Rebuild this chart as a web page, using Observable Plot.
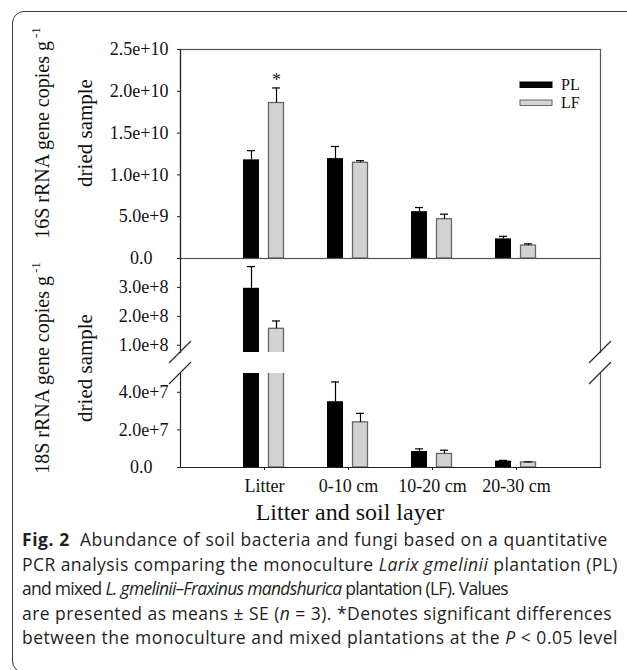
<!DOCTYPE html>
<html><head><meta charset="utf-8">
<script src="https://cdn.jsdelivr.net/npm/d3@7"></script>
<script src="https://cdn.jsdelivr.net/npm/@observablehq/plot@0.6"></script>
<style>
html,body{margin:0;padding:0;background:#fff;}
#wrap{position:relative;width:627px;height:670px;overflow:hidden;background:#fff;}
#card{position:absolute;left:12px;top:11px;width:700px;height:662px;border:1.4px solid #3a3a3a;border-radius:12px;box-sizing:border-box;}
.layer{position:absolute;left:0;top:0;}
#xtitle{position:absolute;left:0;width:700px;top:499px;text-align:center;font-family:"Liberation Serif",serif;font-size:24px;color:#111;}
#caption{position:absolute;left:22px;top:527px;font-family:"Open Sans",sans-serif;font-size:17.5px;color:#231f20;line-height:24.5px;}
#caption div{white-space:nowrap;}
</style></head>
<body><div id="wrap"><div id="card"></div><div id="xtitle">Litter and soil layer</div><div id="caption"></div></div>
<script>
// ---------- data ----------
const categories = ["Litter", "0-10 cm", "10-20 cm", "20-30 cm"];
const seriesNames = ["PL", "LF"];
// 16S rRNA (bacteria)
const bac_PL    = [1.18e10, 1.195e10, 5.6e9, 2.35e9];
const bac_PL_se = [1.1e9,   1.45e9,   0.5e9, 0.3e9];
const bac_LF    = [1.86e10, 1.145e10, 4.7e9, 1.55e9];
const bac_LF_se = [1.8e9,   0.25e9,   0.6e9, 0.2e9];
const bac_sig   = ["", "*", "", "", "", "", "", ""]; // per (cat, series) -> only Litter LF
// 18S rRNA (fungi)
const fun_PL    = [2.97e8, 3.5e7,  8.5e6, 3.4e6];
const fun_PL_se = [0.75e8, 1.05e7, 1.4e6, 0.4e6];
const fun_LF    = [1.57e8, 2.4e7,  7.2e6, 2.7e6];
const fun_LF_se = [0.27e8, 0.48e7, 2.0e6, 0.3e6];
// axes
const ticksBac = [0, 5e9, 1e10, 1.5e10, 2e10, 2.5e10];
const ticksFunUpper = [1e8, 2e8, 3e8];
const ticksFunLower = [0, 2e7, 4e7];
const domainBac = [0, 2.5e10];
const domainFunUpper = [0.75e8, 4e8];
const domainFunLower = [0, 5e7];
const yTitleBac = "16S rRNA gene copies g";
const yTitleFun = "18S rRNA gene copies g";
const yTitle2 = "dried sample";
const captionLines = [
  ["<b>Fig. 2</b>&nbsp; Abundance of soil bacteria and fungi based on a quantitative", 586],
  ["PCR analysis comparing the monoculture <i>Larix gmelinii</i> plantation (PL)", 596],
  ["and mixed <i>L. gmelinii–Fraxinus mandshurica</i> plantation (LF). Values", 486],
  ["are presented as means ± SE (<i>n</i> = 3). *Denotes significant differences", 590],
  ["between the monoculture and mixed plantations at the <i>P</i> &lt; 0.05 level", 596]
];

function rows(pl, plse, lf, lfse, sig) {
  const out = [];
  categories.forEach((c, i) => {
    out.push({cat: c, series: "PL", value: pl[i], se: plse[i], top: pl[i] + plse[i], sig: sig ? sig[i * 2] : ""});
    out.push({cat: c, series: "LF", value: lf[i], se: lfse[i], top: lf[i] + lfse[i], sig: sig ? sig[i * 2 + 1] : ""});
  });
  return out;
}
const bac = rows(bac_PL, bac_PL_se, bac_LF, bac_LF_se, bac_sig);
const fun = rows(fun_PL, fun_PL_se, fun_LF, fun_LF_se, null);

const fmt = d => d === 0 ? "0.0" : d3.format(".1e")(d);
const FONT = "Liberation Serif";
const xScale = {type: "band", domain: categories, paddingInner: 0, paddingOuter: 0.5, axis: null};

function barMarks(data, clip) {
  const PL = data.filter(d => d.series === "PL");
  const LF = data.filter(d => d.series === "LF");
  return [
    Plot.barY(PL, {x: "cat", y: "value", fill: "#000", insetLeft: 21, insetRight: 47, clip}),
    Plot.barY(LF, {x: "cat", y: "value", fill: "#d3d3d3", stroke: "#666", strokeWidth: 1.3, insetLeft: 46.5, insetRight: 22.5, clip}),
    Plot.ruleX(PL, {x: "cat", y1: "value", y2: "top", dx: -13, stroke: "#000", strokeWidth: 1.2, clip}),
    Plot.ruleX(LF, {x: "cat", y1: "value", y2: "top", dx: 12, stroke: "#000", strokeWidth: 1.2, clip}),
    Plot.tickY(PL, {x: "cat", y: "top", insetLeft: 25, insetRight: 51, stroke: "#000", strokeWidth: 1.2, clip}),
    Plot.tickY(LF, {x: "cat", y: "top", insetLeft: 50, insetRight: 26, stroke: "#000", strokeWidth: 1.2, clip})
  ];
}
const common = {width: 627, marginLeft: 180, marginRight: 27, x: xScale,
  style: {fontFamily: FONT, fontSize: "18px", background: "transparent", color: "#111", overflow: "visible"}};
// "0.0" labels sit a little left of the other (right-aligned) labels
const yAxis = ticks => [
  Plot.axisY({ticks, tickFormat: d => d === 0 ? "" : fmt(d), tickSize: 3, tickPadding: 9, fontSize: 18, label: null, stroke: "#222"}),
  ...(ticks.includes(0) ? [Plot.axisY({ticks: [0], tickFormat: fmt, tickSize: 0, tickPadding: 28, fontSize: 18, label: null})] : [])
];

// Top panel (16S)
const chartA = Plot.plot({...common, height: 262, marginTop: 49, marginBottom: 4,
  y: {domain: domainBac, axis: null},
  marks: [
    ...barMarks(bac, false),
    Plot.text(bac.filter(d => d.sig), {x: "cat", y: "top", text: "sig", dx: 12, dy: -8, fontSize: 18}),
    Plot.frame({stroke: "#555", strokeWidth: 1.2}),
    Plot.frame({anchor: "left", stroke: "#222", strokeWidth: 1.2}),
    ...yAxis(ticksBac)
  ]});
// Bottom panel, upper segment
const chartB = Plot.plot({...common, height: 360, marginTop: 258, marginBottom: 8,
  y: {domain: domainFunUpper, axis: null},
  marks: [
    ...barMarks(fun, true),
    Plot.frame({anchor: "left", stroke: "#222", strokeWidth: 1.2}),
    Plot.frame({anchor: "right", stroke: "#555", strokeWidth: 1.2}),
    ...yAxis(ticksFunUpper)
  ]});
// Bottom panel, lower segment
const chartC = Plot.plot({...common, height: 500, marginTop: 373, marginBottom: 33,
  y: {domain: domainFunLower, axis: null},
  marks: [
    ...barMarks(fun, true),
    Plot.frame({anchor: "left", stroke: "#222", strokeWidth: 1.2}),
    Plot.frame({anchor: "right", stroke: "#555", strokeWidth: 1.2}),
    Plot.frame({anchor: "bottom", stroke: "#222", strokeWidth: 1.2}),
    ...yAxis(ticksFunLower),
    Plot.axisX({tickSize: 3, tickPadding: 9, fontSize: 18, label: null, stroke: "#222"})
  ]});

const wrap = document.getElementById("wrap");
for (const c of [chartA, chartB, chartC]) { c.classList.add("layer"); wrap.appendChild(c); }

// overlay: break marks, axis titles, legend
const svg = d3.select(wrap).append("svg").attr("class", "layer").attr("width", 627).attr("height", 670)
  .style("overflow", "visible").style("pointer-events", "none");
const yB = chartB.scale("y"), yC = chartC.scale("y"), xC = chartC.scale("x");
const breakYs = [yB.apply(domainFunUpper[0]), yC.apply(domainFunLower[1])];
for (const x of xC.range) for (const y of breakYs) {
  svg.append("line").attr("x1", x - 11).attr("y1", y + 11).attr("x2", x + 11).attr("y2", y - 11)
    .attr("stroke", "#222").attr("stroke-width", 1.1);
}
function yTitle(title, cy) {
  const g = svg.append("g").attr("font-family", FONT).attr("fill", "#111").attr("text-anchor", "middle");
  const t = g.append("text").attr("font-size", 20).attr("transform", `translate(49,${cy}) rotate(-90)`);
  t.append("tspan").text(title);
  t.append("tspan").attr("font-size", 13).attr("dy", -9).attr("dx", 3).text("-1");
  g.append("text").attr("font-size", 21).attr("transform", `translate(92,${cy}) rotate(-90)`).text(yTitle2);
}
yTitle(yTitleBac, 133);
yTitle(yTitleFun, 368);

const leg = svg.append("g").attr("font-family", FONT).attr("font-size", 16).attr("fill", "#111");
seriesNames.forEach((s, i) => {
  const y = 82 + i * 18;
  leg.append("rect").attr("x", 520).attr("y", y).attr("width", 32).attr("height", 5.5)
    .attr("fill", s === "PL" ? "#000" : "#d3d3d3").attr("stroke", s === "PL" ? "#000" : "#666").attr("stroke-width", 1);
  leg.append("text").attr("x", 561).attr("y", y + 8).text(s);
});

// caption with fitted widths
const cap = document.getElementById("caption");
for (const [html, w] of captionLines) {
  const div = document.createElement("div");
  const span = document.createElement("span");
  span.innerHTML = html; div.appendChild(span); cap.appendChild(div);
  const natural = span.getBoundingClientRect().width;
  const n = span.textContent.length;
  span.style.letterSpacing = ((w - natural) / n) + "px";
}
</script></body></html>
